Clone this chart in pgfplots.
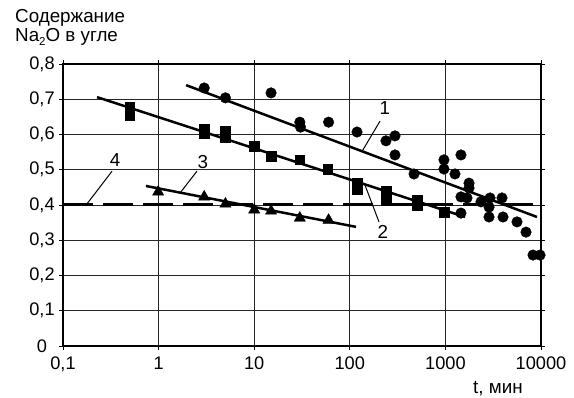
\documentclass[border=0pt]{standalone}
\usepackage{fontspec}
\setmainfont{Liberation Sans}
\usepackage{pgfplots}
\pgfplotsset{compat=1.18}
\begin{document}
\fontsize{18.8bp}{22bp}\selectfont
\begin{tikzpicture}
\useasboundingbox (0,0) rectangle (574bp,398bp);
\begin{axis}[
  at={(63bp,52bp)}, anchor=south west,
  scale only axis, width=478bp, height=282bp,
  xmode=log, xmin=0.1, xmax=10000, ymin=0, ymax=0.8,
  xtick={0.1,1,10,100,1000,10000},
  xticklabels={{0,1},1,10,100,1000,10000},
  xminorticks=false,
  ytick={0,0.1,0.2,0.3,0.4,0.5,0.6,0.7,0.8},
  /pgf/number format/assume math mode=true,
  tick label style={font=\fontsize{18.2bp}{21bp}\selectfont},
  yticklabel style={/pgf/number format/use comma, /pgf/number format/fixed, /pgf/number format/precision=1, anchor=center, xshift=-17bp},
  xticklabel style={anchor=base, yshift=-20bp},
  grid=major, major grid style={black!85, line width=0.9bp},
  axis line style={line width=1.6bp},
  tick align=outside, major tick length=4bp,
  tick style={black, line width=0.9bp},
  clip=false,
]
% series 1 (circles)
\addplot[only marks, mark=*, mark size=5.3bp, mark options={fill=black, draw=black}] coordinates {
(3,0.732) (5,0.704) (15,0.718) (30,0.635) (30.5,0.621) (60,0.635)
(119,0.607) (239,0.582) (297,0.596) (297,0.542) (470,0.488)
(966,0.528) (966,0.502) (1259,0.488) (1455,0.542) (1766,0.462)
(1766,0.448) (1455,0.423) (1683,0.420) (1455,0.377) (2355,0.409)
(2930,0.420) (3910,0.420) (2860,0.394) (2860,0.366) (4005,0.366)
(5610,0.352) (6970,0.323) (8250,0.258) (9770,0.258)
};
\addplot[line width=2.5bp] coordinates {(1.94,0.740) (9080,0.366)};
% series 2 (squares)
\addplot[only marks, mark=square*, mark size=4.8bp, mark options={fill=black, draw=black}] coordinates {
(0.5,0.678) (0.5,0.655) (3,0.616) (3,0.604) (5,0.610) (5,0.593)
(10,0.567) (15,0.539) (30,0.528) (59,0.502) (120,0.462) (120,0.443)
(240,0.440) (240,0.414) (505,0.414) (505,0.400) (966,0.380)
};
\addplot[line width=2.5bp] coordinates {(0.227,0.706) (1603,0.366)};
% series 3 (triangles)
\addplot[only marks, mark=triangle*, mark size=6.5bp, mark options={fill=black, draw=black}] coordinates {
(0.99,0.437) (3,0.423) (5,0.403) (10,0.386) (15,0.383) (30,0.363) (60,0.357)
};
\addplot[line width=2.5bp] coordinates {(0.738,0.454) (116,0.338)};
% line 4 (dashed)
\addplot[line width=3bp, dash pattern=on 30bp off 10bp] coordinates {(0.1,0.4) (10000,0.4)};
% labels
\draw[line width=1bp] (axis cs:207,0.638) -- (axis cs:137,0.556);
\node at (axis cs:233,0.675) {1};
\draw[line width=1bp] (axis cs:144,0.457) -- (axis cs:202,0.352);
\node at (axis cs:222,0.323) {2};
\draw[line width=1bp] (axis cs:2.52,0.496) -- (axis cs:1.71,0.437);
\node at (axis cs:2.91,0.522) {3};
\draw[line width=1bp] (axis cs:0.326,0.496) -- (axis cs:0.178,0.403);
\node at (axis cs:0.35,0.528) {4};
\end{axis}
\node[anchor=base west, inner sep=0pt] at (15bp,375bp) {Содержание};
\node[anchor=base west, inner sep=0pt] at (15bp,356bp) {Na\raisebox{-0.2em}{\fontsize{11.5bp}{12bp}\selectfont 2}O в угле};
\node[anchor=base west, inner sep=0pt] at (473bp,5bp) {t, мин};
\end{tikzpicture}
\end{document}
